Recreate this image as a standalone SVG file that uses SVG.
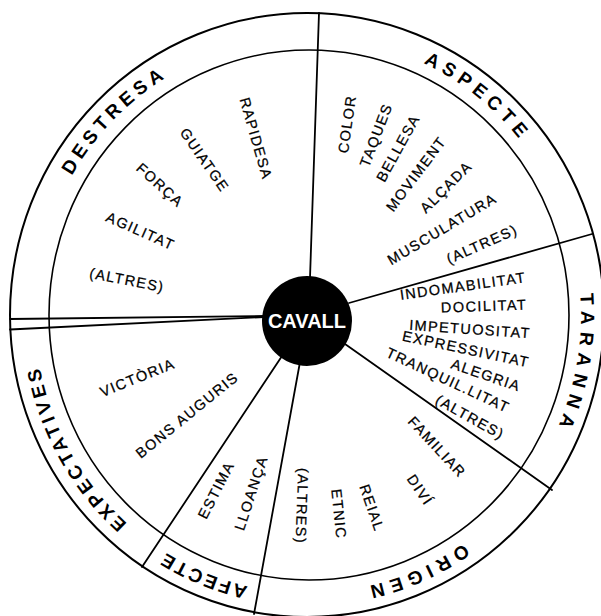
<svg xmlns="http://www.w3.org/2000/svg" width="601" height="616" viewBox="0 0 601 616">
<defs>
<style>
.ring{fill:none;stroke:#000}
.ln{stroke:#000;stroke-width:1.8;fill:none;stroke-linecap:round}
.lab{font-family:"Liberation Sans",Arial,sans-serif;font-size:19px;font-weight:bold;fill:#000;text-anchor:middle}
.it{font-family:"Liberation Sans",Arial,sans-serif;font-size:14.5px;letter-spacing:1.4px;fill:#000;stroke:#000;stroke-width:0.25;text-anchor:middle}
</style>
<path id="pDestresa" d="M45.3,386.7 A271,276 0 0 1 378.4,47.4"/>
<path id="pAspecte" d="M206.1,58.2 A271,276 0 0 1 577.4,353.6"/>
<path id="pTaranna" d="M483.9,103.7 A271,276 0 0 1 399.7,575.8"/>
<path id="pOrigen" d="M578,348.8 A271,276 0 0 1 144.3,536.2"/>
<path id="pAfecte" d="M475.5,533.3 A271,276 0 0 1 38.6,353.6"/>
<path id="pExpect" d="M306.6,592 A271,276 0 0 1 73.2,175.2"/>
</defs>
<rect width="601" height="616" fill="#fff"/>
<g id="frame">
<ellipse cx="307" cy="315" rx="297" ry="302" class="ring" stroke-width="2"/>
<ellipse cx="309" cy="315" rx="260" ry="265" class="ring" stroke-width="1.6"/>
</g>
<g id="connectors">
<line class="ln" x1="310" y1="278" x2="319" y2="13"/>
<line class="ln" x1="349" y1="303" x2="592" y2="234"/>
<line class="ln" x1="345" y1="344" x2="552" y2="490"/>
<line class="ln" x1="300" y1="362" x2="254" y2="614"/>
<line class="ln" x1="282" y1="356" x2="142" y2="567"/>
<line class="ln" x1="264" y1="316" x2="10" y2="319"/>
<line class="ln" x1="264" y1="317" x2="10" y2="329.5"/>
</g>
<g id="cavall">
<circle cx="307" cy="321" r="45" fill="#000"/>
<text x="307" y="321" dy="0.35em" font-family="'Liberation Sans',Arial,sans-serif" font-size="20" font-weight="bold" fill="#fff" text-anchor="middle">CAVALL</text>
</g>
<g id="destresa">
<text class="lab" letter-spacing="4.6"><textPath href="#pDestresa" startOffset="50%">DESTRESA</textPath></text>
<text class="it" dy="0.35em" transform="translate(256,138.5) rotate(74)">RAPIDESA</text>
<text class="it" dy="0.35em" transform="translate(204.5,160) rotate(55)">GUIATGE</text>
<text class="it" dy="0.35em" transform="translate(160,185) rotate(42)">FORÇA</text>
<text class="it" dy="0.35em" transform="translate(140.5,231) rotate(24)">AGILITAT</text>
<text class="it" dy="0.35em" transform="translate(127,280) rotate(11)">(ALTRES)</text>
</g>
<g id="aspecte">
<text class="lab" letter-spacing="5.5"><textPath href="#pAspecte" startOffset="50%">ASPECTE</textPath></text>
<text class="it" dy="0.35em" transform="translate(347,124) rotate(-82)">COLOR</text>
<text class="it" dy="0.35em" transform="translate(376,135) rotate(-69)">TAQUES</text>
<text class="it" dy="0.35em" transform="translate(398,148) rotate(-61)">BELLESA</text>
<text class="it" dy="0.35em" transform="translate(416,174) rotate(-53)">MOVIMENT</text>
<text class="it" dy="0.35em" transform="translate(446,187) rotate(-45)">ALÇADA</text>
<text class="it" dy="0.35em" transform="translate(442,229) rotate(-31)">MUSCULATURA</text>
<text class="it" dy="0.35em" transform="translate(482,244) rotate(-24)">(ALTRES)</text>
</g>
<g id="taranna">
<text class="lab" letter-spacing="7"><textPath href="#pTaranna" startOffset="50%">TARANNA</textPath></text>
<text class="it" dy="0.35em" transform="translate(463,286) rotate(-8)">INDOMABILITAT</text>
<text class="it" dy="0.35em" transform="translate(484,306) rotate(-2)">DOCILITAT</text>
<text class="it" dy="0.35em" transform="translate(470,329) rotate(4)">IMPETUOSITAT</text>
<text class="it" dy="0.35em" transform="translate(466,349) rotate(12)">EXPRESSIVITAT</text>
<text class="it" dy="0.35em" transform="translate(486,375) rotate(19)">ALEGRIA</text>
<text class="it" dy="0.35em" transform="translate(448,380) rotate(25)">TRANQUIL.LITAT</text>
<text class="it" dy="0.35em" transform="translate(470,417) rotate(29)">(ALTRES)</text>
</g>
<g id="origen">
<text class="lab" letter-spacing="5.8"><textPath href="#pOrigen" startOffset="50%">ORIGEN</textPath></text>
<text class="it" dy="0.35em" transform="translate(437,447) rotate(47)">FAMILIAR</text>
<text class="it" dy="0.35em" transform="translate(420,490) rotate(56)">DIVÍ</text>
<text class="it" dy="0.35em" transform="translate(372,508) rotate(71)">REIAL</text>
<text class="it" dy="0.35em" transform="translate(339,514) rotate(84)">ETNIC</text>
<text class="it" dy="0.35em" transform="translate(302,506) rotate(92)">(ALTRES)</text>
</g>
<g id="afecte">
<text class="lab" letter-spacing="2.6"><textPath href="#pAfecte" startOffset="50%">AFECTE</textPath></text>
<text class="it" dy="0.35em" transform="translate(216,490) rotate(-63)">ESTIMA</text>
<text class="it" dy="0.35em" transform="translate(251,493) rotate(-72)">LLOANÇA</text>
</g>
<g id="expectatives">
<text class="lab" letter-spacing="3.6"><textPath href="#pExpect" startOffset="50%">EXPECTATIVES</textPath></text>
<text class="it" dy="0.35em" transform="translate(137.5,377.5) rotate(-22)">VICTÒRIA</text>
<text class="it" dy="0.35em" transform="translate(187,415) rotate(-39)">BONS AUGURIS</text>
</g>
</svg>
